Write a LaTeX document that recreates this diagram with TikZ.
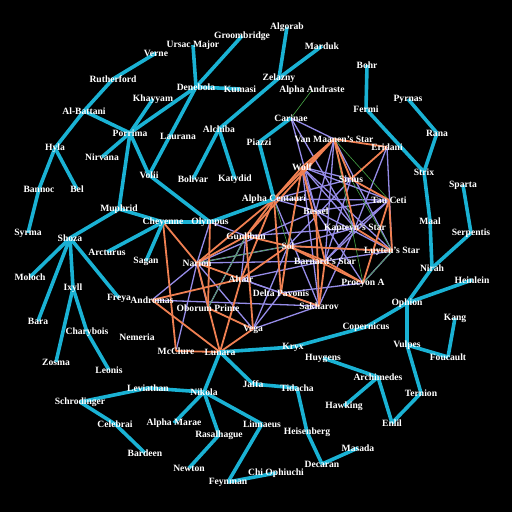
\documentclass[tikz,border=0pt]{standalone}
\usepackage{fontspec}
\setmainfont{Liberation Serif}
\pgfdeclarelayer{bg}
\pgfdeclarelayer{back}
\pgfsetlayers{back,bg,main}
\definecolor{tblue}{RGB}{26,178,212}
\definecolor{torange}{RGB}{240,128,82}
\definecolor{tpurple}{RGB}{150,140,232}
\definecolor{tgreen}{RGB}{70,165,70}
\tikzset{
  lbl/.style={text=white,inner sep=0pt,font=\fontsize{9.6}{10}\selectfont\bfseries},
  tree/.style={draw=tblue,line width=3.6pt},
  hot/.style={draw=torange,line width=1.8pt},
  mid/.style={draw=tpurple,line width=1.3pt},
  thin/.style={draw=tgreen,line width=0.6pt}
}
\newcommand{\tedges}[2]{\foreach \a/\b in {#2} {\draw[#1] (\a.center) -- (\b.center);}}
\begin{document}
\begin{tikzpicture}[x=1pt,y=-1pt]
\begin{pgfonlayer}{back}
\fill[black] (0,0) rectangle (512,512);
\end{pgfonlayer}
\useasboundingbox (0,0) rectangle (512,512);
% nodes
\node[lbl] (vrn) at (156,53) {Verne};
\node[lbl] (urs) at (193,45) {Ursac Major};
\node[lbl] (grb) at (242,36) {Groombridge};
\node[lbl] (alg) at (287,27) {Algorab};
\node[lbl] (mrd) at (322,46) {Marduk};
\node[lbl] (zlz) at (279,78) {Zelazny};
\node[lbl] (aan) at (312,90) {Alpha Andraste};
\node[lbl] (dnb) at (196,87) {Denebola};
\node[lbl] (kms) at (240,89) {Kumasi};
\node[lbl] (khy) at (153,99) {Khayyam};
\node[lbl] (rth) at (113,79) {Rutherford};
\node[lbl] (alb) at (84,111) {Al-Battani};
\node[lbl] (prr) at (130,133) {Porrima};
\node[lbl] (lau) at (178,136) {Laurana};
\node[lbl] (nrv) at (102,157) {Nirvana};
\node[lbl] (hyl) at (55,148) {Hyla};
\node[lbl] (ban) at (39,189) {Bannoc};
\node[lbl] (bel) at (77,189) {Bel};
\node[lbl] (syr) at (28,233) {Syrma};
\node[lbl] (alc) at (219,129) {Alchiba};
\node[lbl] (pzz) at (259,142) {Piazzi};
\node[lbl] (car) at (291,118) {Carinae};
\node[lbl] (vol) at (149,175) {Volii};
\node[lbl] (bol) at (193,179) {Bolivar};
\node[lbl] (kat) at (235,179) {Katydid};
\node[lbl] (mup) at (119,209) {Muphrid};
\node[lbl] (chy) at (163,222) {Cheyenne};
\node[lbl] (oly) at (210,222) {Olympus};
\node[lbl] (shz) at (70,238) {Shoza};
\node[lbl] (arc) at (107,252) {Arcturus};
\node[lbl] (sag) at (146,261) {Sagan};
\node[lbl] (mol) at (30,277) {Moloch};
\node[lbl] (ixy) at (73,288) {Ixyll};
\node[lbl] (fry) at (119,298) {Freya};
\node[lbl] (bar) at (38,321) {Bara};
\node[lbl] (chb) at (87,332) {Charybois};
\node[lbl] (nem) at (137,337) {Nemeria};
\node[lbl] (zos) at (56,362) {Zosma};
\node[lbl] (leo) at (109,370) {Leonis};
\node[lbl] (mcc) at (176,351) {McClure};
\node[lbl] (lun) at (220,352) {Lunara};
\node[lbl] (kry) at (293,347) {Kryx};
\node[lbl] (lev) at (148,388) {Leviathan};
\node[lbl] (sch) at (80,402) {Schrodinger};
\node[lbl] (cel) at (115,424) {Celebrai};
\node[lbl] (ama) at (174,423) {Alpha Marae};
\node[lbl] (bdn) at (145,453) {Bardeen};
\node[lbl] (nik) at (204,392) {Nikola};
\node[lbl] (jaf) at (253,384) {Jaffa};
\node[lbl] (tid) at (297,388) {Tidacha};
\node[lbl] (ras) at (219,435) {Rasalhague};
\node[lbl] (lin) at (262,424) {Linnaeus};
\node[lbl] (hei) at (307,432) {Heisenberg};
\node[lbl] (new) at (189,468) {Newton};
\node[lbl] (chi) at (276,473) {Chi Ophiuchi};
\node[lbl] (fey) at (228,482) {Feynman};
\node[lbl] (dec) at (322,464) {Decaran};
\node[lbl] (mas) at (358,448) {Masada};
\node[lbl] (huy) at (323,358) {Huygens};
\node[lbl] (haw) at (344,406) {Hawking};
\node[lbl] (arm) at (378,377) {Archimedes};
\node[lbl] (enl) at (392,423) {Enlil};
\node[lbl] (ter) at (421,393) {Ternion};
\node[lbl] (vul) at (407,345) {Vulpes};
\node[lbl] (fou) at (448,357) {Foucault};
\node[lbl] (kng) at (455,318) {Kang};
\node[lbl] (cop) at (366,327) {Copernicus};
\node[lbl] (oph) at (407,303) {Ophion};
\node[lbl] (hnl) at (472,280) {Heinlein};
\node[lbl] (nir) at (432,268) {Nirah};
\node[lbl] (ser) at (471,233) {Serpentis};
\node[lbl] (maa) at (430,221) {Maal};
\node[lbl] (spa) at (463,185) {Sparta};
\node[lbl] (stx) at (424,172) {Strix};
\node[lbl] (ran) at (437,133) {Rana};
\node[lbl] (pyr) at (408,99) {Pyrnas};
\node[lbl] (boh) at (367,65) {Bohr};
\node[lbl] (fer) at (366,109) {Fermi};
\node[lbl] (eri) at (387,147) {Eridani};
\node[lbl] (vm) at (334,139) {Van Maanen's Star};
\node[lbl] (wlf) at (302,167) {Wolf};
\node[lbl] (sir) at (351,179) {Sirius};
\node[lbl] (acn) at (274,199) {Alpha Centauri};
\node[lbl] (bes) at (316,211) {Bessel};
\node[lbl] (tau) at (389,200) {Tau Ceti};
\node[lbl] (kap) at (355,228) {Kapteyn's Star};
\node[lbl] (gun) at (246,236) {Gunlibun};
\node[lbl] (sol) at (288,246) {Sol};
\node[lbl] (brn) at (325,261) {Barnard's Star};
\node[lbl] (luy) at (392,251) {Luyten's Star};
\node[lbl] (nar) at (197,263) {Narion};
\node[lbl] (alt) at (241,279) {Altair};
\node[lbl] (pro) at (363,283) {Procyon A};
\node[lbl] (dpv) at (281,293) {Delta Pavonis};
\node[lbl] (and) at (152,300) {Andromas};
\node[lbl] (obr) at (208,308) {Oborum Prime};
\node[lbl] (sak) at (319,306) {Sakharov};
\node[lbl] (veg) at (253,329) {Vega};
\begin{pgfonlayer}{bg}
% purple
\tedges{mid}{car/vm,car/bes,car/kap,vm/bes,vm/brn,vm/luy,eri/kap,eri/luy,wlf/kap,wlf/tau,wlf/sak,wlf/luy,sir/sol,sir/brn,sir/acn,acn/tau,acn/bes,acn/sak,bes/luy,bes/tau,bes/nar,bes/pro,kap/sol,kap/gun,kap/tau,kap/brn,kap/sak,luy/brn,luy/sol,luy/pro,gun/alt,gun/oly,gun/obr,sol/nar,sol/veg,brn/nar,brn/alt,nar/and,nar/obr,nar/veg,nar/mcc,alt/sak,alt/dpv,and/sak,dpv/veg,veg/sak,oly/nar,dpv/pro,wlf/bes,tau/brn,wlf/sir}
% green
\tedges{thin}{car/aan,vm/tau,vm/pro,wlf/dpv,sir/luy,nar/sol,obr/veg,acn/sol,gun/obr,bes/sak,luy/pro,tau/sir,wlf/brn}
% orange
\tedges{hot}{vm/wlf,vm/gun,vm/acn,vm/kap,vm/eri,vm/sir,wlf/acn,wlf/sol,wlf/brn,sir/eri,sir/tau,tau/luy,tau/pro,luy/sol,acn/nar,acn/alt,acn/gun,acn/dpv,gun/sol,gun/nar,gun/veg,sol/alt,sol/brn,sol/dpv,brn/sak,brn/pro,kap/luy,nar/chy,chy/mcc,oly/obr,nar/alt,alt/and,and/lun,nar/lun,veg/lun,alt/lun,mcc/lun,obr/veg,dpv/sak,sol/pro,bes/sak}
% blue tree
\tedges{tree}{vrn/rth,rth/alb,alb/hyl,alb/prr,khy/prr,prr/nrv,prr/mup,prr/vol,dnb/prr,dnb/vol,dnb/urs,dnb/grb,dnb/kms,zlz/alg,zlz/mrd,zlz/alc,alc/bol,alc/kat,car/pzz,pzz/acn,oly/acn,chy/oly,vol/oly,chy/mup,chy/arc,chy/sag,mup/shz,hyl/ban,ban/syr,hyl/bel,shz/mol,shz/bar,shz/ixy,shz/fry,ixy/zos,ixy/chb,chb/leo,lun/kry,kry/cop,cop/oph,oph/nir,oph/hnl,oph/vul,nir/maa,maa/stx,nir/ser,ser/spa,stx/ran,stx/fer,ran/pyr,fer/boh,vul/fou,vul/ter,fou/kng,ter/enl,enl/arm,arm/huy,arm/haw,hei/tid,hei/dec,dec/mas,tid/jaf,jaf/lun,lun/nik,nik/lev,lev/sch,sch/cel,cel/bdn,nik/ama,nik/ras,nik/lin,ras/new,lin/fey,fey/chi}
\end{pgfonlayer}
\end{tikzpicture}
\end{document}
